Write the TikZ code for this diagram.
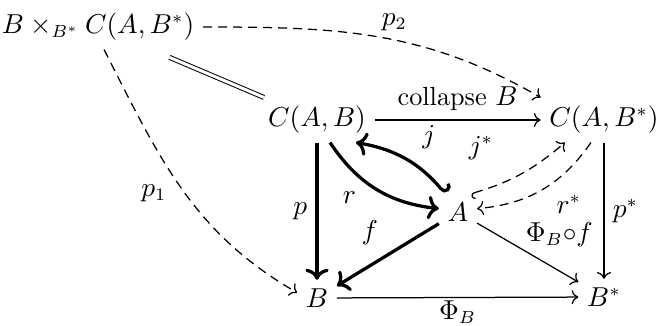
\documentclass[tikz,border=0pt]{standalone}
\usetikzlibrary{arrows.meta}
\tikzset{
  thinarrow/.style={-{Computer Modern Rightarrow}, line width=0.5pt},
  thickarrow/.style={-{Computer Modern Rightarrow}, line width=1.3pt},
  dasharrow/.style={thinarrow, dash pattern=on 3.6pt off 2.4pt},
  hooked/.style={{Hooks[left]}-{Computer Modern Rightarrow}},
}

\begin{document}
\begin{tikzpicture}[x=0.4pt,y=-0.4pt,font=\fontsize{10.5}{12}\selectfont]
\useasboundingbox (0,0) rectangle (656,326);
\node (pb) at (98,27) {$B \times_{B^*} C(A,B^*)$};
\node (cab) at (317,120) {$C(A,B)$};
\node (cabs) at (604,120) {$C(A,B^*)$};
\node (a) at (458,212) {$A$};
\node (b) at (317,298) {$B$};
\node (bs) at (604,297) {$B^*$};

\draw[dasharrow] (pb.east) to[out=0,in=150] node[pos=0.55,above] {$p_2$} (cabs.north west);
\draw[dasharrow] (pb.-75) to[out=-63,in=150] node[pos=0.52,left=4pt] {$p_1$} (b.165);
\draw[double, double distance=1.2pt, line width=0.4pt, shorten <=8pt] (pb) -- (cab);

\draw[thinarrow] (cab) -- node[above] {collapse $B$} (cabs);
\draw[thickarrow, hooked] (a.125) to[bend right=20] node[pos=0.45,above right=1pt] {$j$} (cab.-30);
\draw[thickarrow] (cab.-60) to[bend right=25] node[pos=0.4,below left] {$r$} (a.170);
\draw[dasharrow, hooked] (a.55) to[bend right=12] node[pos=0.4,above left=4pt] {$j^*$} (cabs.-150);
\draw[dasharrow] (cabs.-120) to[bend left=25] node[pos=0.45,below right=0pt] {$r^*$} (a.10);

\draw[thickarrow] (cab) -- node[left] {$p$} (b);
\draw[thinarrow] (cabs) -- node[right] {$p^*$} (bs);
\draw[thickarrow] (a) -- node[above left] {$f$} (b);
\draw[thinarrow] (a) -- node[pos=0.45,above right=0pt,inner sep=1pt] {$\Phi_B{\circ}f$} (bs);
\draw[thinarrow] (b) -- node[below,inner sep=1pt] {$\Phi_B$} (bs);
\end{tikzpicture}
\end{document}
